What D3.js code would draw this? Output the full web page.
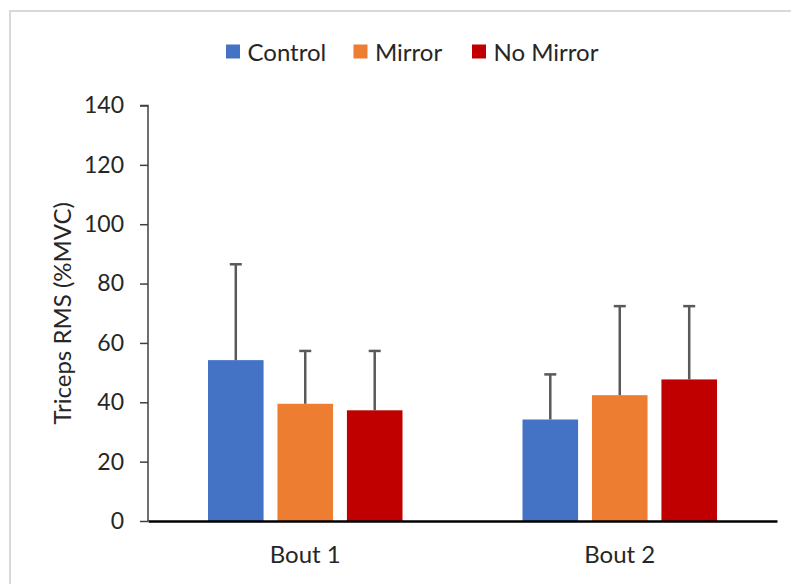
<!DOCTYPE html>
<html>
<head>
<meta charset="utf-8">
<script src="https://cdn.jsdelivr.net/npm/d3@7"></script>
<style>
  html, body { margin: 0; padding: 0; background: #fff; }
  svg { display: block; }
  text { font-family: Lato, "Open Sans", sans-serif; fill: #262626; }
</style>
</head>
<body>
<svg id="chart" width="791" height="584"></svg>
<script>
// Triceps RMS (%MVC) by bout and condition, mean with upper SD bars
const bouts = ["Bout 1", "Bout 2"];
const conditions = ["Control", "Mirror", "No Mirror"];
const colors = ["#4472C4", "#ED7D31", "#C00000"];
const controlMean = [54.2, 34.2];
const controlSD = [32.3, 15.2];
const mirrorMean = [39.5, 42.4];
const mirrorSD = [17.8, 30.0];
const noMirrorMean = [37.3, 47.7];
const noMirrorSD = [20.0, 24.7];
const yTicks = [0, 20, 40, 60, 80, 100, 120, 140];

const means = [controlMean, mirrorMean, noMirrorMean];
const sds = [controlSD, mirrorSD, noMirrorSD];
const rows = [];
bouts.forEach((b, i) => conditions.forEach((c, j) => {
  rows.push({ bout: b, cond: c, mean: means[j][i], sd: sds[j][i], color: colors[j] });
}));

const svg = d3.select("#chart");

// outer chart frame
svg.append("rect")
  .attr("x", 10).attr("y", 11).attr("width", 800).attr("height", 600)
  .attr("fill", "none").attr("stroke", "#d9d9d9").attr("stroke-width", 2);

const plotLeft = 148, plotRight = 777, plotTop = 105.5, plotBottom = 521;

const x = d3.scaleBand().domain(bouts).range([plotLeft, plotRight]).padding(0);
const inner = d3.scaleBand().domain(conditions)
  .range([-97.25, 97.25]).paddingInner(0.2).paddingOuter(0);
const y = d3.scaleLinear().domain([0, 140]).range([plotBottom, plotTop]);

// bars
const g = svg.append("g");
g.selectAll("rect.bar").data(rows).join("rect")
  .attr("class", "bar")
  .attr("x", d => x(d.bout) + x.bandwidth() / 2 + inner(d.cond))
  .attr("width", inner.bandwidth())
  .attr("y", d => y(d.mean))
  .attr("height", d => y(0) - y(d.mean))
  .attr("fill", d => d.color);

// upper error bars
const cx = d => x(d.bout) + x.bandwidth() / 2 + inner(d.cond) + inner.bandwidth() / 2;
g.selectAll("line.err").data(rows).join("line")
  .attr("x1", cx).attr("x2", cx)
  .attr("y1", d => y(d.mean)).attr("y2", d => y(d.mean + d.sd))
  .attr("stroke", "#595959").attr("stroke-width", 2.5);
g.selectAll("line.cap").data(rows).join("line")
  .attr("x1", d => cx(d) - 6).attr("x2", d => cx(d) + 6)
  .attr("y1", d => y(d.mean + d.sd)).attr("y2", d => y(d.mean + d.sd))
  .attr("stroke", "#595959").attr("stroke-width", 2.5);

// y axis
const yAxis = svg.append("g")
  .attr("transform", `translate(${plotLeft},0)`)
  .call(d3.axisLeft(y).tickValues(yTicks).tickSize(8).tickPadding(16));
yAxis.select(".domain").attr("stroke", "#404040").attr("stroke-width", 1.5)
  .attr("d", `M-8,${plotTop}H0V${plotBottom}`);
yAxis.selectAll(".tick line").attr("stroke", "#404040").attr("stroke-width", 1.5);
yAxis.selectAll(".tick text").attr("font-size", 23).style("fill", "#262626")
  .attr("font-family", "Lato, sans-serif");

// x axis
const xAxis = svg.append("g")
  .attr("transform", `translate(0,${plotBottom})`)
  .call(d3.axisBottom(x).tickSize(0).tickPadding(25));
xAxis.select(".domain").attr("stroke", "#000").attr("stroke-width", 2.5);
xAxis.selectAll(".tick text").attr("font-size", 24).style("fill", "#262626")
  .attr("font-family", "Lato, sans-serif");

// y axis title
svg.append("text")
  .attr("transform", `translate(71,${(plotTop + plotBottom) / 2}) rotate(-90)`)
  .attr("text-anchor", "middle")
  .attr("font-size", 24)
  .text("Triceps RMS (%MVC)");

// legend
const legendX = [226, 353.5, 472];
const legend = svg.append("g");
conditions.forEach((c, j) => {
  legend.append("rect")
    .attr("x", legendX[j]).attr("y", 44.5).attr("width", 14).attr("height", 14)
    .attr("fill", colors[j]);
  legend.append("text")
    .attr("x", legendX[j] + 21.5).attr("y", 51.5)
    .attr("dominant-baseline", "central")
    .attr("font-size", 24)
    .text(c);
});
</script>
</body>
</html>
